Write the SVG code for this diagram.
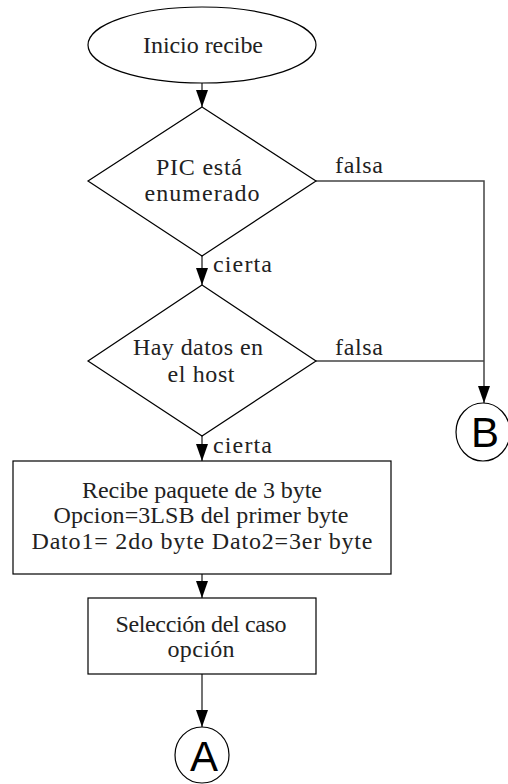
<svg xmlns="http://www.w3.org/2000/svg" width="508" height="784" viewBox="0 0 508 784">
<style>
.shape{fill:#fff;stroke:#000;stroke-width:1.2}
.conn{fill:none;stroke:#444;stroke-width:1.5}
.t{font-family:"Liberation Serif","Times New Roman",serif;font-size:24px;fill:#222}
.c{text-anchor:middle}
.big{font-family:"Liberation Sans",Arial,sans-serif;font-size:42px;fill:#000;text-anchor:middle}
</style>
<g id="connectors">
<line class="conn" x1="202" y1="83" x2="202" y2="107"/>
<path d="M196,90 L208,90 L202,107 Z" fill="#000"/>
<line class="conn" x1="202" y1="256" x2="202" y2="285"/>
<path d="M196,268 L208,268 L202,285 Z" fill="#000"/>
<line class="conn" x1="202" y1="436" x2="202" y2="461"/>
<path d="M196,444 L208,444 L202,461 Z" fill="#000"/>
<line class="conn" x1="202" y1="574" x2="202" y2="598"/>
<path d="M196,581 L208,581 L202,598 Z" fill="#000"/>
<line class="conn" x1="202" y1="674" x2="202" y2="727"/>
<path d="M196,710 L208,710 L202,727 Z" fill="#000"/>
<polyline class="conn" points="315,181 484,181 484,403"/>
<line class="conn" x1="315" y1="361" x2="484" y2="361"/>
<path d="M478,386 L490,386 L484,403 Z" fill="#000"/>
<text class="t" x="335" y="173" textLength="48" lengthAdjust="spacing">falsa</text>
<text class="t" x="335" y="355" textLength="48" lengthAdjust="spacing">falsa</text>
<text class="t" x="213" y="272" textLength="59" lengthAdjust="spacing">cierta</text>
<text class="t" x="213" y="453" textLength="59" lengthAdjust="spacing">cierta</text>
</g>
<g id="start">
<ellipse class="shape" cx="202" cy="45" rx="114" ry="38"/>
<text class="t c" x="203" y="53" textLength="120" lengthAdjust="spacing">Inicio recibe</text>
</g>
<g id="dec1">
<polygon class="shape" points="202,107 316,181 202,256 88,181"/>
<text class="t c" x="199" y="175" textLength="86" lengthAdjust="spacing">PIC está</text>
<text class="t c" x="202" y="201" textLength="115" lengthAdjust="spacing">enumerado</text>
</g>
<g id="dec2">
<polygon class="shape" points="202,285 316,361 202,436 88,361"/>
<text class="t c" x="198" y="355" textLength="130" lengthAdjust="spacing">Hay datos en</text>
<text class="t c" x="201" y="382" textLength="67" lengthAdjust="spacing">el host</text>
</g>
<g id="recv">
<rect class="shape" x="13" y="461" width="378" height="113"/>
<text class="t c" x="202" y="498" textLength="240" lengthAdjust="spacing">Recibe paquete de 3 byte</text>
<text class="t c" x="201" y="523" textLength="295" lengthAdjust="spacing">Opcion=3LSB del primer byte</text>
<text class="t c" x="202" y="549" textLength="341" lengthAdjust="spacing">Dato1= 2do byte Dato2=3er byte</text>
</g>
<g id="sel">
<rect class="shape" x="88" y="598" width="228" height="76"/>
<text class="t c" x="201" y="632" textLength="171" lengthAdjust="spacing">Selección del caso</text>
<text class="t c" x="201" y="657" textLength="67" lengthAdjust="spacing">opción</text>
</g>
<g id="B">
<ellipse class="shape" cx="483" cy="432" rx="27" ry="29"/>
<text class="big" x="485" y="447">B</text>
</g>
<g id="A">
<ellipse class="shape" cx="202" cy="755" rx="27" ry="28"/>
<text class="big" x="204" y="771">A</text>
</g>
</svg>
